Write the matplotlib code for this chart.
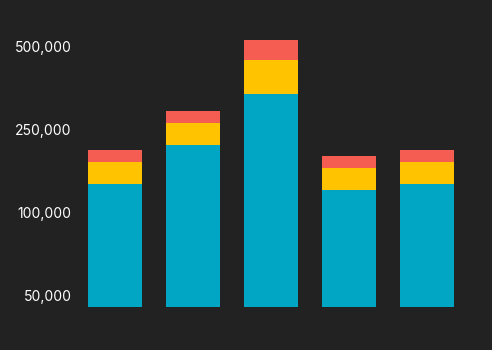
import numpy as np
import matplotlib.pyplot as plt

# data
categories = ['A', 'B', 'C', 'D', 'E']
blue_vals = [152000, 223000, 358000, 142000, 152000]
yellow_vals = [40000, 48000, 103000, 39000, 40000]
red_vals = [22000, 36000, 60000, 22000, 22000]
tick_vals = [50000, 100000, 250000, 500000]
tick_labels = ['50,000', '100,000', '250,000', '500,000']

# piecewise linear (polylinear) y scale: each tick gets equal spacing
knots = np.array([0, 50000, 100000, 250000, 500000, 750000], dtype=float)
pos = np.array([-1, 0, 1, 2, 3, 4], dtype=float)

def forward(v):
    return np.interp(v, knots, pos)

def inverse(p):
    return np.interp(p, pos, knots)

bg = '#222222'
fig = plt.figure(figsize=(4.92, 3.5), dpi=100, facecolor=bg)
ax = fig.add_axes([76 / 492, 43 / 350, 390 / 492, 277 / 350], facecolor=bg)
ax.set_yscale('function', functions=(forward, inverse))

x = np.arange(len(categories))
w = 54 / 78
b2 = np.array(blue_vals) + np.array(yellow_vals)
ax.bar(x, blue_vals, width=w, color='#00a6c4', bottom=0)
ax.bar(x, yellow_vals, width=w, color='#ffc300', bottom=blue_vals)
ax.bar(x, red_vals, width=w, color='#f55c52', bottom=b2)

ax.set_xlim(-0.5, 4.5)
ax.set_ylim(inverse(-11 / 83), inverse((296 - 30) / 83))
ax.set_yticks(tick_vals)
ax.set_yticklabels(tick_labels, family=['Inter', 'DejaVu Sans'], fontsize=10)
ax.yaxis.set_minor_locator(plt.NullLocator())
ax.tick_params(axis='y', length=0, pad=3, colors='white')
ax.set_xticks([])
for s in ax.spines.values():
    s.set_visible(False)

fig.savefig('out.png', dpi=100, facecolor=bg)
